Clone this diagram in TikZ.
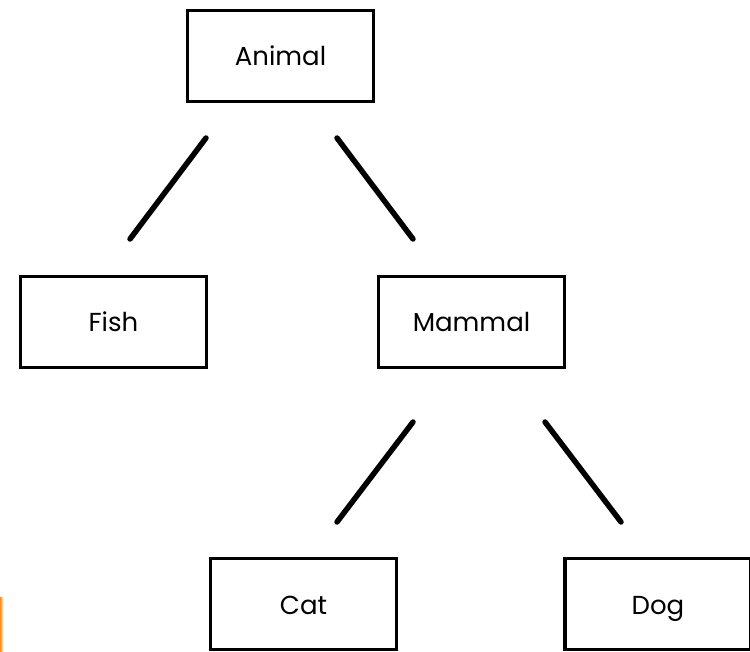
\documentclass[tikz,border=0pt]{standalone}
\usepackage{fontspec}
\setmainfont{Poppins}
\begin{document}
\begin{tikzpicture}[x=1pt,y=-1pt,
  box/.style={draw=black,line width=3.5pt,fill=white,minimum width=186pt,minimum height=91pt,inner sep=0pt,text height=22pt,text depth=2pt,font=\fontsize{26}{30}\selectfont},
  edge/.style={line width=5.5pt,line cap=round,black}]
\useasboundingbox (0,0) rectangle (750,652);
\fill[white] (0,0) rectangle (750,652);
\shade[left color=orange!90,right color=orange!10] (0,597) rectangle (3,652);
\node[box] (animal) at (280.5,56) {Animal};
\node[box] (fish) at (113.5,322) {Fish};
\node[box] (mammal) at (471.5,322) {Mammal};
\node[box] (cat) at (303.5,604) {Cat};
\node[box] (dog) at (658,604) {Dog};
\coordinate (af1) at (206,138);
\coordinate (af2) at (130,239);
\coordinate (am1) at (337,138);
\coordinate (am2) at (413,239);
\coordinate (mc1) at (413,422);
\coordinate (mc2) at (337,522);
\coordinate (md1) at (545,422);
\coordinate (md2) at (621,522);
\draw[edge] (af1) -- (af2);
\draw[edge] (am1) -- (am2);
\draw[edge] (mc1) -- (mc2);
\draw[edge] (md1) -- (md2);
\end{tikzpicture}
\end{document}
